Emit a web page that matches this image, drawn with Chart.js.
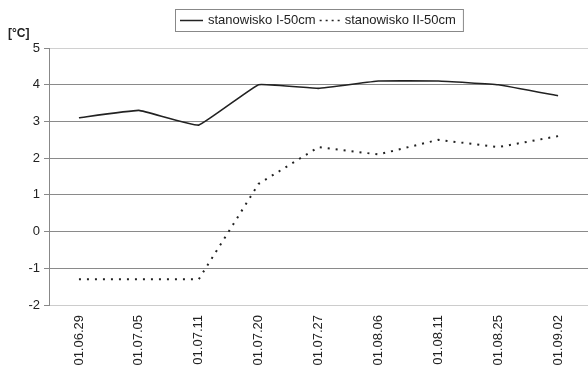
<!DOCTYPE html>
<html>
<head>
<meta charset="utf-8">
<script src="https://cdn.jsdelivr.net/npm/chart.js@4/dist/chart.umd.min.js"></script>
<style>
html,body{margin:0;padding:0;background:#fff;}
#wrap{width:588px;height:366px;position:relative;}
</style>
</head>
<body>
<div id="wrap"><canvas id="c" width="588" height="366"></canvas></div>
<script>
const categories = ["01.06.29","01.07.05","01.07.11","01.07.20","01.07.27","01.08.06","01.08.11","01.08.25","01.09.02"];
const seriesI = [3.1, 3.3, 2.9, 4.0, 3.9, 4.1, 4.1, 4.0, 3.7];
const seriesII = [-1.3, -1.3, -1.3, 1.3, 2.3, 2.1, 2.5, 2.3, 2.6];
const seriesNames = ["stanowisko I-50cm", "stanowisko II-50cm"];
const yTicks = [-2, -1, 0, 1, 2, 3, 4, 5];
const yUnit = "[°C]";

const FONT = "'Liberation Sans', Arial, sans-serif";

const legendPlugin = {
  id: 'customLegend',
  afterDraw(chart) {
    const ctx = chart.ctx;
    ctx.save();
    ctx.font = "13px " + FONT;
    ctx.textBaseline = 'middle';
    ctx.fillStyle = '#222';
    const y = 20.5;
    let x = 180;
    const w1 = ctx.measureText(seriesNames[0]).width;
    const w2 = ctx.measureText(seriesNames[1]).width;
    const total = 23 + 5 + w1 + 4 + 22 + 3 + w2;
    ctx.strokeStyle = '#888';
    ctx.lineWidth = 1;
    ctx.strokeRect(175.5, 9.5, total + 12, 22);
    ctx.strokeStyle = '#222';
    ctx.lineWidth = 1.5;
    ctx.beginPath(); ctx.moveTo(x, y); ctx.lineTo(x + 23, y); ctx.stroke();
    x += 28;
    ctx.fillText(seriesNames[0], x, y);
    x += w1 + 4;
    ctx.setLineDash([2, 4]);
    ctx.beginPath(); ctx.moveTo(x, y); ctx.lineTo(x + 22, y); ctx.stroke();
    ctx.setLineDash([]);
    x += 25;
    ctx.fillText(seriesNames[1], x, y);
    ctx.font = "bold 12px " + FONT;
    ctx.textBaseline = 'middle';
    ctx.fillText(yUnit, 8, 34);
    ctx.restore();
  }
};

new Chart(document.getElementById('c'), {
  type: 'line',
  data: {
    labels: categories,
    datasets: [
      { label: seriesNames[0], data: seriesI, borderColor: '#222', borderWidth: 1.6,
        pointRadius: 0, tension: 0.08, fill: false },
      { label: seriesNames[1], data: seriesII, borderColor: '#222', borderWidth: 2,
        borderDash: [2, 6], pointRadius: 0, tension: 0, fill: false }
    ]
  },
  plugins: [legendPlugin],
  options: {
    responsive: false,
    animation: false,
    devicePixelRatio: 1,
    layout: { padding: { top: 48, left: 0, right: 0, bottom: 0 } },
    plugins: { legend: { display: false }, tooltip: { enabled: false }, title: { display: false } },
    scales: {
      x: {
        type: 'category',
        offset: true,
        grid: { display: false, drawTicks: false },
        border: { display: true, color: '#ccc', width: 1 },
        ticks: { color: '#222', font: { family: FONT, size: 13 }, minRotation: 90, maxRotation: 90, padding: 10, autoSkip: false },
        afterFit(s) { s.height = 61; }
      },
      y: {
        min: -2, max: 5,
        afterBuildTicks(s) { s.ticks = yTicks.map(v => ({ value: v })); },
        grid: {
          color: ctx => (ctx.tick && (ctx.tick.value === 5 || ctx.tick.value === -2)) ? '#d0d0d0' : '#8a8a8a',
          tickColor: '#888', tickLength: 5, lineWidth: 1
        },
        border: { display: true, color: '#888', width: 1 },
        ticks: { color: '#222', font: { family: FONT, size: 13 }, padding: 4 },
        afterFit(s) { s.width = 49; }
      }
    }
  }
});
</script>
</body>
</html>
